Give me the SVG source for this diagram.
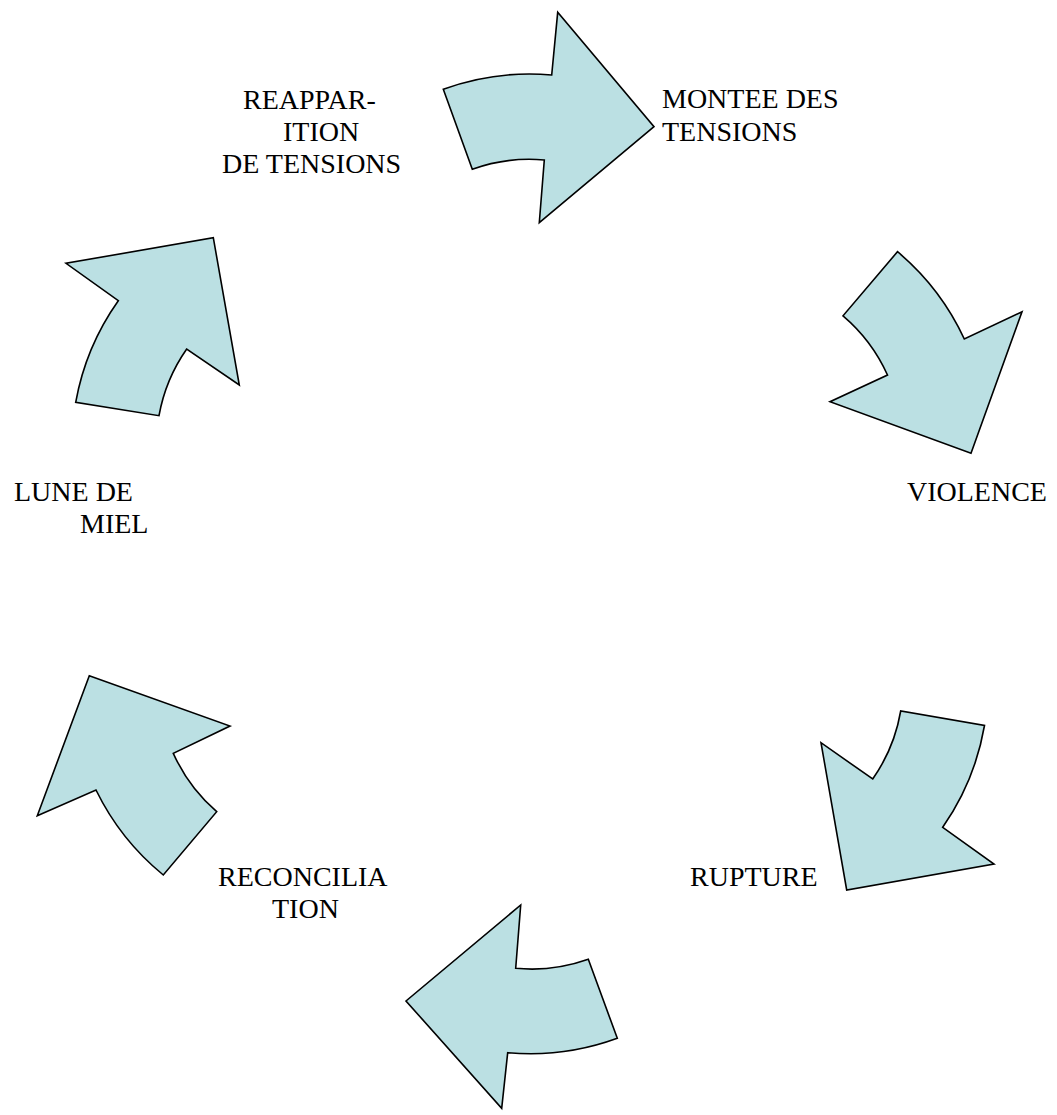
<svg xmlns="http://www.w3.org/2000/svg" width="1057" height="1115" viewBox="0 0 1057 1115">
<style>
.arrow{fill:#bbe0e3;stroke:#000;stroke-width:1.6;stroke-linejoin:miter}
.lbl{font-family:"Liberation Serif","Times New Roman",serif;font-size:28px;fill:#000}
</style>
<rect width="1057" height="1115" fill="#fff"/>
<g id="connectors">
<path id="arrow1" class="arrow" d="M 443.3 89.3 A 253 253 0 0 1 551.7 75 L 557.7 12.3 L 654 126.7 L 539.3 222.7 L 544.3 160 A 168 168 0 0 0 472.3 169.3 Z"/>
<path id="arrow2" class="arrow" d="M 897.5 251.7 A 253 253 0 0 1 964.3 339 L 1022 311.7 L 971 453.3 L 830 401.7 L 887.5 375 A 168 168 0 0 0 843 315.8 Z"/>
<path id="arrow3" class="arrow" d="M 984.5 725.5 A 253 253 0 0 1 942.7 827.3 L 994 864 L 846.7 890 L 821 742.7 L 872.7 779 A 168 168 0 0 0 900.7 711 Z"/>
<path id="arrow4" class="arrow" d="M 617.3 1038.3 A 253 253 0 0 1 507.7 1052.7 L 501.7 1108.3 L 406 1001 L 520.7 905 L 515.7 968.3 A 168 168 0 0 0 588.3 959.3 Z"/>
<path id="arrow5" class="arrow" d="M 163.3 875 A 253 253 0 0 1 96 790 L 37.3 815.7 L 89.3 675.7 L 230 726 L 173.3 753.3 A 168 168 0 0 0 216.7 811.7 Z"/>
<path id="arrow6" class="arrow" d="M 75.7 402.3 A 253 253 0 0 1 118.3 300.7 L 66 263.3 L 213.3 237.7 L 239.3 385 L 186.7 349 A 168 168 0 0 0 159 415.7 Z"/>
</g>
<g id="node-montee">
<text class="lbl" x="662" y="108">MONTEE DES</text>
<text class="lbl" x="662" y="141">TENSIONS</text>
</g>
<g id="node-violence">
<text class="lbl" x="907" y="501">VIOLENCE</text>
</g>
<g id="node-rupture">
<text class="lbl" x="690" y="886">RUPTURE</text>
</g>
<g id="node-reconciliation">
<text class="lbl" x="218" y="886">RECONCILIA</text>
<text class="lbl" x="272" y="918">TION</text>
</g>
<g id="node-lune">
<text class="lbl" x="14" y="501">LUNE DE</text>
<text class="lbl" x="80" y="533">MIEL</text>
</g>
<g id="node-reapparition">
<text class="lbl" x="243" y="109">REAPPAR-</text>
<text class="lbl" x="283" y="141">ITION</text>
<text class="lbl" x="222" y="173">DE TENSIONS</text>
</g>
</svg>
